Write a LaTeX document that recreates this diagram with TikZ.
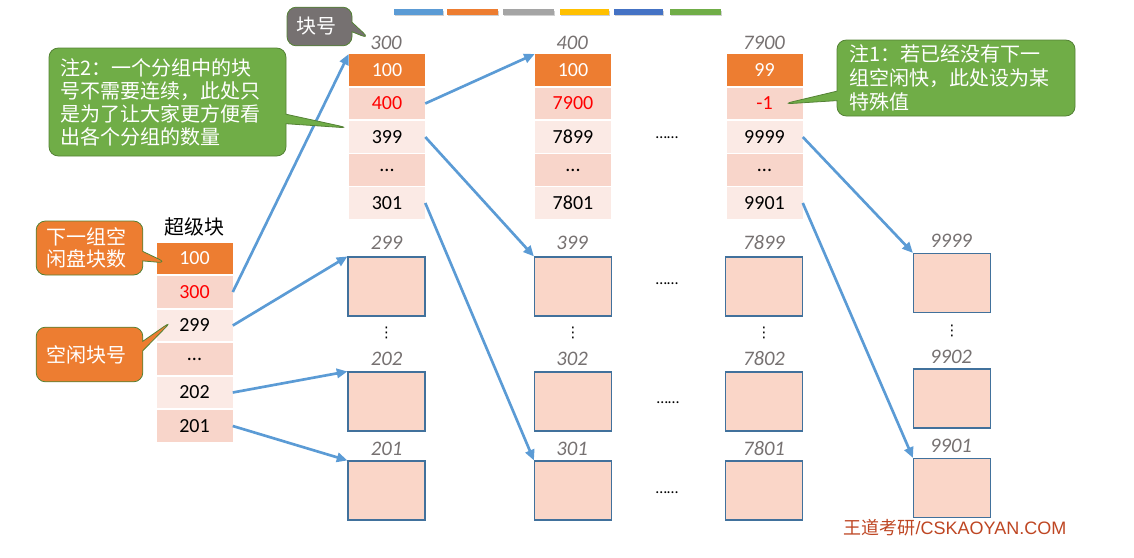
\documentclass[tikz,border=0pt]{standalone}
\usepackage{fontspec}
\setmainfont{Carlito}
\newfontfamily\cjk{Noto Sans CJK SC}
\newfontfamily\wmfont{Liberation Sans}
\newfontfamily\dvfont{DejaVu Sans}
\usetikzlibrary{shapes.callouts,arrows.meta}
\definecolor{hdr}{HTML}{ED7D31}
\definecolor{band}{HTML}{F8D5CA}
\definecolor{lite}{HTML}{FBEAE5}
\definecolor{boxfill}{HTML}{FAD6C8}
\definecolor{boxline}{HTML}{41719C}
\definecolor{arr}{HTML}{5B9BD5}
\definecolor{lblgray}{HTML}{767171}
\definecolor{cgreen}{HTML}{70AD47}
\definecolor{cgreenline}{HTML}{548235}
\definecolor{cgray}{HTML}{767171}
\definecolor{wmcol}{RGB}{190,70,35}
\definecolor{barA}{HTML}{5B9BD5}
\definecolor{barB}{HTML}{ED7D31}
\definecolor{barC}{HTML}{A5A5A5}
\definecolor{barD}{HTML}{FFC000}
\definecolor{barE}{HTML}{4472C4}
\definecolor{barF}{HTML}{70AD47}
\begin{document}
\begin{tikzpicture}[x=0.75pt,y=-0.75pt,
  cellbase/.style={minimum width=57pt,minimum height=23.6pt,inner sep=0pt,font=\fontsize{15}{17}\selectfont},
  hcell/.style={cellbase,fill=hdr,text=white},
  dcell/.style={cellbase,fill=band},
  lcell/.style={cellbase,fill=lite},
  blk/.style={draw=boxline,line width=1.1pt,fill=boxfill,minimum width=57.5pt,minimum height=44pt,inner sep=0pt},
  lbl/.style={text=lblgray,font=\fontsize{15.5}{17}\selectfont\itshape,inner sep=0pt},
  hdots/.style={font=\fontsize{12}{14}\selectfont,inner sep=0pt},
  vdot/.style={font=\dvfont\fontsize{11}{12}\selectfont,inner sep=0pt},
  link/.style={draw=arr,line width=2pt,-{Triangle[length=8pt,width=7pt]}},
  note/.style={rectangle callout,rounded corners=7pt,draw=cgreenline,line width=0.6pt,text=white,align=left,inner sep=0pt},
  bar/.style={line width=4pt}
]
\useasboundingbox (0,0) rectangle (1134,557);

% colour bars
\foreach \a/\b/\c in {394/443/barA,447/498/barB,503/554/barC,560/609/barD,614/663/barE,670/721/barF}{
  \draw[bar,black!18] (\a+1,13.5) -- (\b+1,13.5);
  \draw[bar,\c] (\a,12) -- (\b,12);
}

% super block
\node[font=\cjk\fontsize{15}{17}\selectfont,inner sep=0pt] (stitle) at (194.5,227) {超级块};
\node[hcell] (s1) at (194.5,258.5) {100};
\node[dcell,text=red] (s2) at (194.5,292) {300};
\node[lcell] (s3) at (194.5,325.5) {299};
\node[dcell] (s4) at (194.5,359) {...};
\node[lcell] (s5) at (194.5,392.5) {202};
\node[dcell] (s6) at (194.5,426) {201};

% top columns
\node[lbl] (t1) at (386,43) {300};
\node[hcell] (a1) at (387,70) {100};
\node[dcell,text=red] (a2) at (387,103.5) {400};
\node[lcell] (a3) at (387,137) {399};
\node[dcell] (a4) at (387,170) {...};
\node[lcell] (a5) at (387,203) {301};

\node[lbl] (t2) at (572,43) {400};
\node[hcell] (b1) at (573,70) {100};
\node[dcell,text=red] (b2) at (573,103.5) {7900};
\node[lcell] (b3) at (573,137) {7899};
\node[dcell] (b4) at (573,170) {...};
\node[lcell] (b5) at (573,203) {7801};

\node[lbl] (t3) at (764,43) {7900};
\node[hcell] (c1) at (764.5,70) {99};
\node[dcell,text=red] (c2) at (764.5,103.5) {-1};
\node[lcell] (c3) at (764.5,137) {9999};
\node[dcell] (c4) at (764.5,170) {...};
\node[lcell] (c5) at (764.5,203) {9901};

\node[hdots] (hd1) at (667,138) {……};

% bottom blocks column 1
\node[lbl] (l11) at (386.5,243) {299};
\node[blk] (p11) at (386.5,286.5) {};
\node[vdot] (v1) at (386.5,333) {⋮};
\node[lbl] (l12) at (386.5,359) {202};
\node[blk] (p12) at (386.5,401.5) {};
\node[lbl] (l13) at (386.5,449) {201};
\node[blk] (p13) at (386.5,490.5) {};

% column 2
\node[lbl] (l21) at (572,243) {399};
\node[blk] (p21) at (573,286.5) {};
\node[vdot] (v2) at (573,333) {⋮};
\node[lbl] (l22) at (572,359) {302};
\node[blk] (p22) at (573,401.5) {};
\node[lbl] (l23) at (572,449) {301};
\node[blk] (p23) at (573,490.5) {};

% column 3
\node[lbl] (l31) at (764,243) {7899};
\node[blk] (p31) at (764,286.5) {};
\node[vdot] (v3) at (764,333) {⋮};
\node[lbl] (l32) at (764,359) {7802};
\node[blk] (p32) at (764,401.5) {};
\node[lbl] (l33) at (764,449) {7801};
\node[blk] (p33) at (764,490.5) {};

\node[hdots] (hd2) at (667,284) {……};
\node[hdots] (hd3) at (668,403) {……};
\node[hdots] (hd4) at (667,493) {……};

% column 4
\node[lbl] (l41) at (951,241) {9999};
\node[blk] (p41) at (952,283) {};
\node[vdot] (v4) at (952,331) {⋮};
\node[lbl] (l42) at (951,357) {9902};
\node[blk] (p42) at (952,398.5) {};
\node[lbl] (l43) at (951,446) {9901};
\node[blk] (p43) at (952,488) {};

% arrows
\draw[link] (s2.east) -- (a1.north west);
\draw[link] (s3.east) -- (p11.north west);
\draw[link] (s5.east) -- (p12.north west);
\draw[link] (s6.east) -- (p13.north west);
\draw[link] (a2.east) -- (b1.north west);
\draw[link] (a3.east) -- (p21.north west);
\draw[link] (a5.east) -- (p23.north west);
\draw[link] (c3.east) -- (p41.north west);
\draw[link] (c5.east) -- (p43.north west);

% callouts
\node[note,fill=cgreen,minimum width=177.75pt,minimum height=81pt,text width=160pt,
  font=\cjk\fontsize{15}{17.3}\selectfont,callout absolute pointer={(349,128)}] (n2) at (167.5,102)
  {注2：一个分组中的块\\号不需要连续，此处只\\是为了让大家更方便看\\出各个分组的数量};
\node[note,fill=cgreen,minimum width=178.5pt,minimum height=57pt,text width=160pt,
  font=\cjk\fontsize{15}{18}\selectfont,callout absolute pointer={(783,104)}] (n1) at (956,78)
  {注1：若已经没有下一\\组空闲快，此处设为某\\特殊值};
\node[note,fill=hdr,minimum width=80pt,minimum height=40.5pt,text width=64pt,
  font=\cjk\fontsize{15}{16.5}\selectfont,callout absolute pointer={(167,263)}] (o1) at (89.5,248)
  {下一组空\\闲盘块数};
\node[note,fill=hdr,minimum width=80pt,minimum height=41pt,text width=64pt,
  font=\cjk\fontsize{15}{16.5}\selectfont,callout absolute pointer={(172,321)}] (o2) at (89.5,354.5)
  {空闲块号};
\node[note,fill=cgray,minimum width=48.75pt,minimum height=29pt,text width=34pt,
  font=\cjk\fontsize{15}{16.5}\selectfont,callout absolute pointer={(370,39)}] (g1) at (319.5,26.5)
  {块号};

% watermark
\node[text=wmcol,inner sep=0pt,font=\fontsize{13.5}{15}\selectfont] (wm) at (955,528)
  {{\cjk 王道考研}{\wmfont /CSKAOYAN.COM}};
\end{tikzpicture}
\end{document}
